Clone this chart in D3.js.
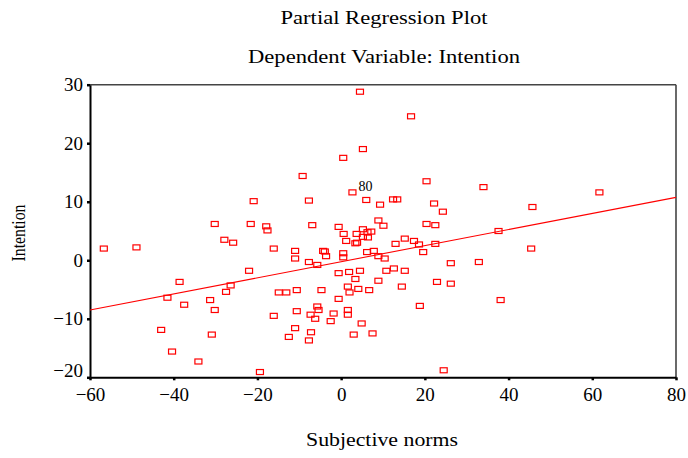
<!DOCTYPE html>
<html>
<head>
<meta charset="utf-8">
<script src="https://cdn.jsdelivr.net/npm/d3@7"></script>
<style>
  body { margin: 0; background: #fff; }
  text { font-family: "Liberation Serif", "Times New Roman", serif; }
</style>
</head>
<body>
<svg id="chart"></svg>
<script>
// residuals (Subjective norms | others, Intention | others)
const subjNorms = [
  -56.7, -48.9, -30.2, -20.9, -21.6, -17.9, -17.6, -27.9, -25.8, -16.1,
  -22.0, -38.6, -26.4, -27.5, -41.5, -31.3, -37.5, -30.2, -14.9, -13.1,
  -16.1, -12.5, -43.0, -30.9, -40.4, -34.1, -19.4, 24.5, 4.5, 16.7,
  5.2, 0.5, -9.2, 20.4, 34.0, 2.7, -7.7, 6.0, 9.3, 12.4,
  13.4, 22.2, 24.3, -6.9, -0.6, 5.2, 6.3, 7.2, 8.9, 10.1,
  20.4, 22.5, 37.6, 61.7, 45.7, 45.4, 38.1, 0.6, 3.7, 5.2,
  6.4, 1.2, 3.4, 3.8, 13.0, 15.2, 17.4, 18.6, 22.5, 19.6,
  -11.0, -11.0, -4.3, -3.9, -3.6, 0.5, 0.5, 6.2, 7.8, 8.9,
  10.4, -7.7, -5.7, 26.2, 32.9, -0.6, 1.9, 4.5, 10.8, 12.6,
  15.2, 3.4, 8.9, 22.9, 26.2, 14.5, -10.6, -4.7, 1.6, 2.0,
  4.1, 6.7, -0.6, -10.6, -5.7, -5.4, -7.3, -6.2, -1.8, 1.6,
  1.6, -2.5, 4.9, 18.8, -11.0, -7.2, -7.7, 3.0, 7.5
];
const intention = [
  2.0, 2.2, 6.2, 10.1, 6.2, 5.8, 5.1, 3.5, 3.0, 2.0,
  -1.8, -3.7, -4.3, -5.4, -6.4, -6.8, -7.6, -8.5, -5.5, -5.5,
  -9.5, -13.1, -11.9, -12.7, -15.6, -17.3, -19.1, -18.8, 28.8, 24.6,
  19.0, 17.5, 14.4, 13.5, 12.5, 11.6, 10.2, 10.3, 9.5, 10.4,
  10.4, 9.7, 8.3, 6.0, 5.7, 5.3, 4.8, 4.9, 6.8, 5.9,
  6.2, 6.0, 5.0, 11.6, 9.1, 2.0, -6.8, 4.5, 4.5, 4.0,
  3.9, 3.3, 2.9, 3.0, 2.8, 3.7, 3.3, 2.7, 2.8, 1.4,
  1.6, 0.3, 1.6, 1.5, 0.7, 1.2, 0.5, 1.4, 1.6, 0.7,
  0.3, -0.3, -0.8, -0.5, -0.3, -2.2, -2.0, -1.8, -1.8, -1.4,
  -1.8, -3.2, -3.5, -3.7, -4.0, -4.5, -5.1, -5.1, -4.5, -5.5,
  -4.9, -5.1, -6.6, -8.7, -7.9, -8.5, -9.3, -10.0, -9.1, -8.5,
  -9.3, -10.4, -10.8, -7.8, -11.6, -12.3, -13.7, -12.7, -12.5
];
const labelIndex = 35;      // the one case that carries a label
const labelText = "80";
const slope = 0.1375;
const intercept = -0.25;
const xTicks = [-60, -40, -20, 0, 20, 40, 60, 80];
const yTicks = [-20, -10, 0, 10, 20, 30];

const width = 688, height = 458;
const svg = d3.select("#chart").attr("width", width).attr("height", height);
svg.append("rect").attr("width", width).attr("height", height).attr("fill", "#fff");

const x = d3.scaleLinear().domain([-60, 80]).range([90, 676]);
const y = d3.scaleLinear().domain([-20, 30]).range([377.3, 84.7]);

// the original text is a bit wide, so stretch it to the widths seen
function wideText(px, py, txt, w) {
  return svg.append("text").attr("x", px).attr("y", py).attr("text-anchor", "middle")
    .attr("font-size", 19).attr("textLength", w).attr("lengthAdjust", "spacingAndGlyphs")
    .text(txt);
}
wideText(384, 24, "Partial Regression Plot", 207);
wideText(384, 63, "Dependent Variable: Intention", 272);
wideText(382, 446, "Subjective norms", 152);
wideText(0, 0, "Intention", 57).attr("transform", "translate(25,233) rotate(-90)");

// frame: top/right grey, left/bottom black
svg.append("line").attr("x1", 90).attr("x2", 676).attr("y1", 84.7).attr("y2", 84.7)
  .attr("stroke", "#444").attr("stroke-width", 1.6);
svg.append("line").attr("x1", 676).attr("x2", 676).attr("y1", 84.7).attr("y2", 377.3)
  .attr("stroke", "#444").attr("stroke-width", 1.6);

// axes
const xAxis = svg.append("g").attr("transform", "translate(0,377.3)")
  .call(d3.axisBottom(x).tickValues(xTicks).tickSize(3).tickPadding(4).tickSizeOuter(0));
const yAxis = svg.append("g").attr("transform", "translate(90,0)")
  .call(d3.axisLeft(y).tickValues(yTicks).tickSize(3).tickPadding(4).tickSizeOuter(0));

[xAxis, yAxis].forEach(a => {
  a.select(".domain").attr("stroke", "#000").attr("stroke-width", 2);
  a.selectAll(".tick line").attr("stroke", "#000").attr("stroke-width", 2.5);
  a.selectAll(".tick text").attr("fill", "#000").attr("font-size", 19)
    .attr("font-family", "Liberation Serif, serif");
});
xAxis.selectAll(".tick text").attr("dy", "0.9em");
// lowest y label sits a little above its tick
yAxis.selectAll(".tick text").filter(d => d === -20).attr("dy", "-0.05em");

// fit line
svg.append("line")
  .attr("x1", x(-60)).attr("y1", y(intercept + slope * -60))
  .attr("x2", x(80)).attr("y2", y(intercept + slope * 80))
  .attr("stroke", "red").attr("stroke-width", 1.1);

// points
svg.append("g").selectAll("rect")
  .data(subjNorms.map((d, i) => [d, intention[i]]))
  .enter()
  .append("rect")
  .attr("x", d => x(d[0]) - 3.5)
  .attr("y", d => y(d[1]) - 2.5)
  .attr("width", 7)
  .attr("height", 5)
  .attr("fill", "none")
  .attr("stroke", "red")
  .attr("stroke-width", 1.2);

svg.append("text")
  .attr("x", x(subjNorms[labelIndex]) + 6)
  .attr("y", y(intention[labelIndex]) - 1)
  .attr("font-family", "Liberation Sans, Arial, sans-serif")
  .attr("font-size", 14)
  .text(labelText);
</script>
</body>
</html>
